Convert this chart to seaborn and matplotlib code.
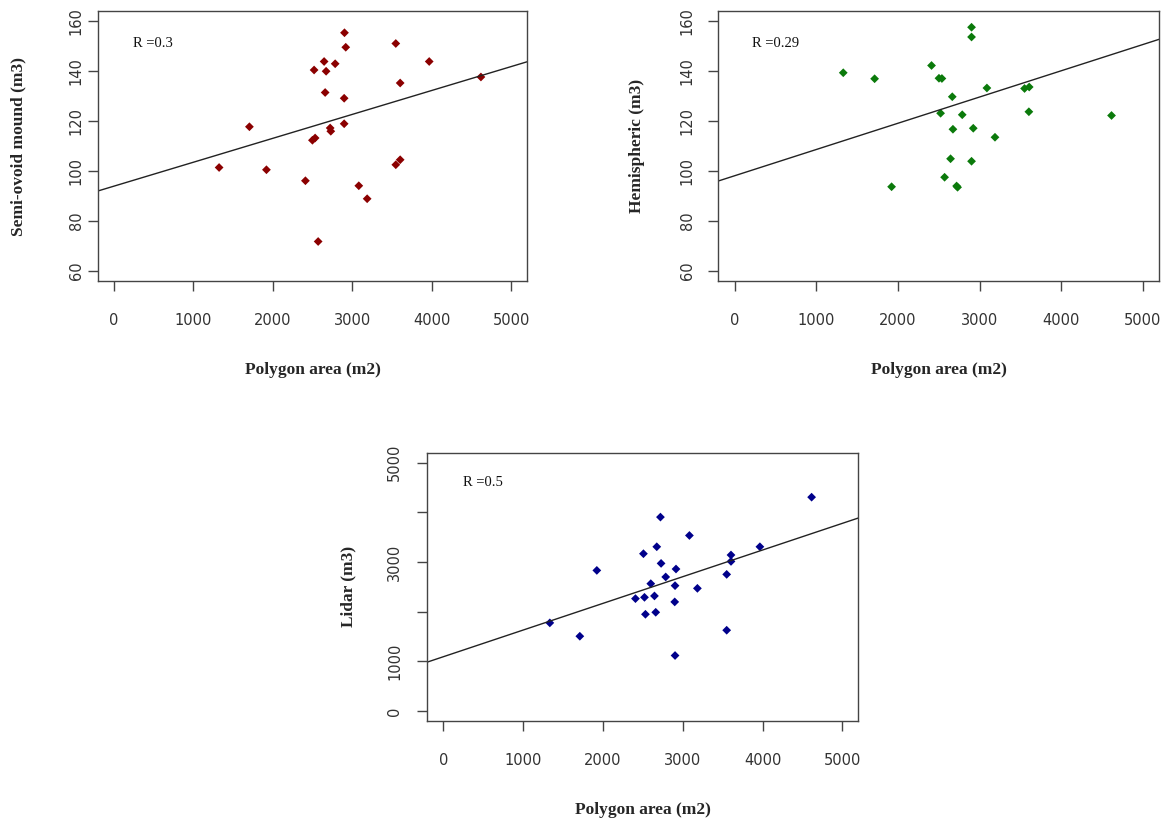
"""Volume estimates vs polygon area, three scatter panels with linear fits."""
import matplotlib
matplotlib.use("Agg")
import matplotlib.pyplot as plt
import pandas as pd
import seaborn as sns

# Semi-ovoid mound panel
semi_area = [2902, 2918, 3547, 2646, 2785, 2520, 2671, 3967, 3602, 4617, 2659, 2898, 1707,
             2898, 2722, 2730, 2533, 2499, 1326, 1921, 2411, 3547, 3602, 3082, 3187, 2571]
semi_vol = [155.3, 149.5, 151.0, 143.8, 142.9, 140.4, 139.9, 143.8, 135.2, 137.6, 131.4, 129.1, 117.7,
            118.9, 117.2, 115.9, 113.2, 112.3, 101.4, 100.5, 96.1, 102.5, 104.5, 94.1, 88.9, 71.8]

# Hemispheric panel
hemi_area = [2901, 2901, 1330, 1714, 2411, 2502, 2538, 3089, 3550, 3607, 2665, 2522,
             2787, 3603, 4615, 2673, 2922, 3188, 2644, 2901, 2571, 1922, 2718, 2730]
hemi_vol = [157.5, 153.6, 139.3, 136.9, 142.2, 137.1, 137.0, 133.2, 133.0, 133.6, 129.7, 123.1,
            122.5, 123.7, 122.2, 116.7, 117.1, 113.5, 104.9, 103.9, 97.5, 93.7, 94.0, 93.5]

# Lidar panel
lidar_area = [4615, 2721, 3084, 3967, 2675, 2508, 3605, 3605, 2729, 1924, 2916, 2787, 3551,
              2600, 2904, 3184, 2408, 2521, 2646, 2900, 2533, 2662, 1335, 1711, 3551, 2904]
lidar_vol = [4305, 3904, 3534, 3307, 3307, 3167, 3141, 3012, 2972, 2831, 2859, 2699, 2751,
             2564, 2524, 2470, 2263, 2289, 2317, 2197, 1948, 1988, 1775, 1506, 1627, 1118]

# fitted lines as printed (intercept, slope per m2)
fit_intercept = [93.9, 98.1, 1093]
fit_slope = [0.00958, 0.0105, 0.537]
r_labels = ["R =0.3", "R =0.29", "R =0.5"]
y_titles = ["Semi-ovoid mound (m3)", "Hemispheric (m3)", "Lidar (m3)"]

panels = [
    dict(x=semi_area, y=semi_vol, color="#8b0000", yticks=[60, 80, 100, 120, 140, 160],
         ylim=(56, 164), rect=(97.7, 11, 527.3, 281), ypad=3, txt_y=151),
    dict(x=hemi_area, y=hemi_vol, color="#0b7a0b", yticks=[60, 80, 100, 120, 140, 160],
         ylim=(56, 164), rect=(718.3, 11, 1159.3, 281), ypad=10, txt_y=151),
    dict(x=lidar_area, y=lidar_vol, color="#00008b", yticks=[0, 1000, 2000, 3000, 4000, 5000],
         ylim=(-200, 5200), rect=(427.3, 452.7, 858.3, 721), ypad=11, txt_y=4600),
]

W, H = 1169, 822
sns.set_style("white")
fig = plt.figure(figsize=(W / 100, H / 100), dpi=100)

for i, p in enumerate(panels):
    l, t, r, b = p["rect"]
    ax = fig.add_axes([l / W, 1 - b / H, (r - l) / W, (b - t) / H])
    df = pd.DataFrame({"area": p["x"], "vol": p["y"]})
    sns.scatterplot(data=df, x="area", y="vol", ax=ax, color=p["color"], marker="D",
                    s=20, edgecolor="none", linewidth=0)
    ax.axline((0, fit_intercept[i]), slope=fit_slope[i], color="#222222", lw=1.0)
    ax.set_xlim(-200, 5200)
    ax.set_ylim(*p["ylim"])

    ax.set_xticks([0, 1000, 2000, 3000, 4000, 5000])
    ax.set_yticks(p["yticks"])
    ylabels = [str(v) for v in p["yticks"]]
    if p["yticks"][-1] == 5000:
        ylabels = ["0", "1000", "", "3000", "", "5000"]
    ax.set_yticklabels(ylabels, rotation=90, va="center")
    ax.tick_params(axis="both", direction="out", length=7, width=1, color="#444444",
                   labelcolor="#333333", labelsize=10.5, left=True, bottom=True)
    ax.tick_params(axis="x", pad=16)
    ax.tick_params(axis="y", pad=p["ypad"])
    for lab in ax.get_xticklabels() + ax.get_yticklabels():
        lab.set_family("DejaVu Sans")
    for s in ax.spines.values():
        s.set_color("#444444")
        s.set_linewidth(1.0)

    ax.set_xlabel("Polygon area (m2)", family="Liberation Serif", fontweight="bold",
                  fontsize=12.5, va="center")
    ax.set_ylabel(y_titles[i], family="Liberation Serif", fontweight="bold",
                  fontsize=12.5, va="center")
    ax.xaxis.set_label_coords(0.5, -0.33)
    ax.yaxis.set_label_coords(-0.184, 0.5)

    ax.text(500, p["txt_y"], r_labels[i], family="Liberation Serif", fontsize=10.5,
            ha="center", va="center", color="#111111")

fig.savefig("out.png", dpi=100)
